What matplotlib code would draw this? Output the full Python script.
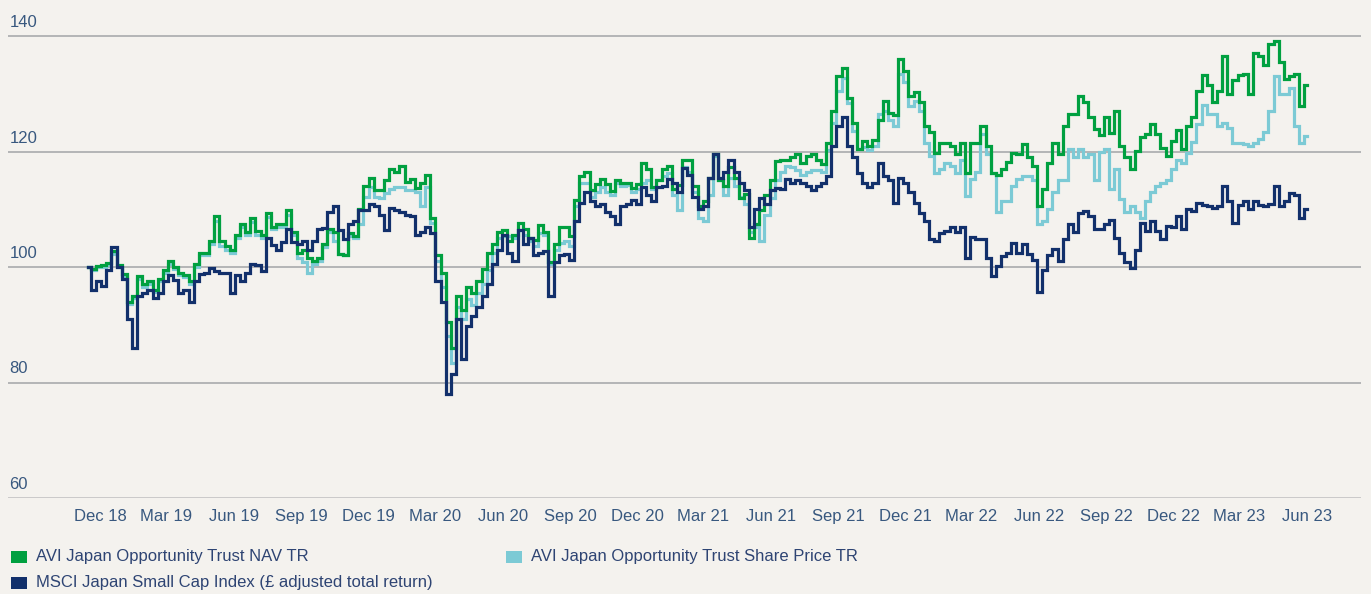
import matplotlib
matplotlib.use('Agg')
import matplotlib.pyplot as plt
import matplotlib.dates as mdates
import pandas as pd
from matplotlib.patches import Rectangle

plt.rcParams['font.family'] = ['Liberation Sans', 'DejaVu Sans']

# ---------------- data (weekly) ----------------
dates = pd.date_range('2018-11-29', periods=238, freq='7D')

nav = [
    # Dec 18 - Sep 19
    100, 99.7, 100.2, 100.3, 100.7, 102.8, 100.3, 98.8, 94, 95,
    98.5, 97, 97.5, 96, 98, 99.5, 101, 100, 99, 98.6,
    97.5, 100.5, 102.5, 102.5, 104.5, 108.8, 104.5, 103.6, 103, 105.6,
    107.5, 106, 108.5, 106.2, 105.5, 109.3, 107, 107.5, 107.5, 109.8,
    106, 102.5, 103, 101.5, 101, 101.5, 104, 106.5,
    # Oct 19 - Sep 20
    106, 102.3, 102.1, 105.9, 105.3, 110, 114, 115.4, 113.4, 113.4,
    115.1, 117, 116.5, 117.5, 114.8, 115.3, 113.7, 114.5, 116, 108.5,
    102, 99, 90.5, 86, 95, 92.5, 96.5, 95.5, 97.5, 99.6,
    102.5, 104, 106, 106.4, 104.5, 105.5, 107.6, 106.5, 105, 104.7,
    107.3, 106, 100.9, 104, 107, 107, 105.3,
    # Sep 20 - Aug 21
    111.6, 115.7, 116.5, 113.4, 114.3, 115.2, 114.3, 113.2, 115, 114.5,
    114.5, 113.7, 114.4, 118, 117, 113.9, 115, 117, 117.5, 113.5,
    114.2, 118.6, 118.6, 114, 110.5, 111.5, 115.5, 119.6, 115, 114,
    117.4, 115.5, 112, 112.6, 105, 107.5, 109.9, 112.5, 115, 118.3,
    118.5, 118.5, 119, 119.5, 118, 119.2, 119.6, 118.5,
    # Aug 21 - Jul 22
    117.8, 121.5, 127, 133, 134.5, 129.3, 125, 120.5, 121.8, 121,
    122, 125.5, 128.7, 126.7, 126.3, 136, 134, 129.6, 130.3, 128.5,
    124.4, 123.3, 119.8, 121.5, 121.5, 121, 119.5, 121.5, 116.3, 121.5,
    121.5, 124.5, 121, 116.3, 116, 116.9, 118.2, 119.8, 119.5, 121.3,
    119, 117.5, 110.5, 113.5, 118, 121.5, 119.5,
    # Jul 22 - Jun 23
    124.5, 126.5, 126.5, 129.6, 128.5, 126, 123.9, 122.8, 126, 123.2,
    127, 120.9, 119, 116.9, 120.1, 122.5, 123, 124.8, 123, 120.6,
    119.3, 121.8, 123.8, 120.5, 124.4, 126, 130.5, 133.2, 131.5, 128.6,
    130.5, 136.5, 130, 132.4, 133.2, 133.5, 130, 137, 136.5, 135,
    138.7, 139.2, 135.5, 132.5, 133, 133.5, 127.8, 131.5,
]

share = [
    100, 99.5, 100, 100, 100.4, 102.3, 100, 98.5, 93.6, 94.6,
    98, 96.6, 97, 95.6, 97.6, 99, 100.5, 99.6, 98.6, 98.2,
    97, 100, 102, 102, 104, 108, 103.6, 103, 102.5, 105,
    107, 105.5, 107.8, 105.6, 105, 108.6, 106.5, 107, 107, 109,
    105.5, 101.5, 100.8, 99, 100.5, 101, 103.5, 106,
    104.5, 102.2, 102, 105.3, 105, 107.5, 112.2, 113.9, 112.2, 112,
    112.8, 113.5, 113.9, 113.9, 113.4, 113.4, 113, 110.5, 113.9, 107.6,
    101, 96.5, 88, 83.4, 93, 91, 94.5, 93.5, 95.5, 97,
    99.5, 102.4, 105, 105.3, 105.3, 105, 106.4, 105.5, 104.5, 103.6,
    105.9, 105.5, 100.5, 103, 104.1, 104.5, 103.6,
    110.5, 114.5, 114.5, 112.2, 113, 113.9, 113, 112.5, 114.5, 114,
    114.2, 113, 113.5, 114.5, 115.1, 113.5, 115, 115.8, 116.3, 112.5,
    109.9, 117.4, 116.5, 113, 108.5, 108, 112.5, 119.2, 115, 112.5,
    115.5, 114, 112.2, 111, 106, 107, 104.5, 109, 112, 115,
    116.5, 117.5, 117.4, 116.8, 116, 116.5, 116.8, 116.8,
    116.5, 120.3, 125, 130.5, 132.8, 128.4, 123.5, 120.5, 120.8, 120.3,
    121, 126.5, 127, 125.5, 124.5, 133.5, 132, 127.8, 128.8, 127,
    121.5, 119.2, 116.3, 117, 118, 117.5, 116.3, 118.5, 112.3, 115.2,
    116.5, 123, 119.5, 116.3, 109.5, 111.5, 111.5, 114, 115.2, 115.7,
    115.7, 115, 107.5, 108, 110, 113, 115,
    115, 120.5, 119, 120.5, 119, 119.5, 115, 120, 120.5, 113.5,
    117, 111.7, 109.5, 110.5, 109.6, 108.5, 111.5, 113, 114, 114.5,
    115, 117, 118.5, 118, 119.8, 121.7, 124.7, 128, 126.5, 126.5,
    124.5, 125, 124, 121.5, 121.5, 121.3, 120.9, 121.5, 122.1, 123.3,
    127, 133, 130, 130, 131, 124.4, 121.5, 122.7,
]

msci = [
    100, 96, 97.5, 96.7, 99.5, 103.5, 100, 98, 91, 86,
    95, 95.5, 96, 94.7, 95.5, 97.5, 98.7, 97.8, 95.5, 96,
    94, 97.5, 98.8, 99, 99.8, 99.3, 99, 99, 95.5, 98.7,
    97.5, 99, 100.5, 100.3, 99.3, 105, 103.8, 103, 104.3, 106.5,
    104.3, 104, 104.5, 103, 104.5, 106.5, 106.8, 109.5,
    110.5, 106.4, 104.8, 107.5, 108, 109.9, 109.9, 111, 110.5, 109,
    106.4, 110.3, 109.9, 109.5, 109, 108.8, 105.5, 106, 107, 105.9,
    97.5, 94, 78, 81.5, 91, 84, 89.8, 91.5, 93, 95,
    97, 100.5, 103, 105.5, 102.5, 101, 106.4, 104, 105, 102,
    102.5, 102.8, 95, 100.8, 102.1, 102.3, 101.3,
    108, 111.1, 113, 111.5, 110.5, 111, 109.6, 108.8, 107.5, 110.6,
    111, 111.6, 111, 113.8, 112.5, 111.5, 113.8, 114, 115.2, 114.5,
    113, 117.2, 116, 112.2, 110, 110.5, 115.5, 119.5, 115.4, 116.5,
    118.6, 116.5, 114.5, 113.4, 107, 110, 111.9, 111, 113.4, 113.7,
    113.5, 115.3, 114.6, 115.1, 114.5, 114, 113.4, 114,
    114.5, 115.7, 121, 124.5, 126, 121, 119, 116.3, 114.5, 113.8,
    114.5, 118, 115.7, 115, 111.1, 115.5, 114.6, 113, 111.1, 109.4,
    108, 104.8, 104.5, 105.9, 106.3, 107, 106, 107, 101.5, 105.2,
    104.8, 104.8, 101.5, 98.5, 100.2, 101.9, 102.5, 104.2, 102.5, 104,
    102.3, 101.3, 95.6, 99.5, 102, 103.1, 101,
    104.8, 107.5, 106, 109.4, 109.7, 108.8, 106.5, 106.5, 107.5, 108.2,
    105, 102.5, 100.8, 99.9, 103, 107.7, 106.3, 108, 106.2, 104.8,
    107.1, 107, 108.8, 106.5, 110, 109.7, 111.1, 110.8, 110.5, 110.3,
    110.5, 114, 111.5, 107.7, 110.7, 111.5, 110, 111.5, 110.8, 110.5,
    111, 114, 110.5, 111.5, 112.8, 112.5, 108.5, 110,
]

tick_labels = ['Dec 18', 'Mar 19', 'Jun 19', 'Sep 19', 'Dec 19', 'Mar 20', 'Jun 20',
               'Sep 20', 'Dec 20', 'Mar 21', 'Jun 21', 'Sep 21', 'Dec 21', 'Mar 22',
               'Jun 22', 'Sep 22', 'Dec 22', 'Mar 23', 'Jun 23']
y_ticks = [60, 80, 100, 120, 140]
series_names = ['AVI Japan Opportunity Trust NAV TR',
                'AVI Japan Opportunity Trust Share Price TR',
                'MSCI Japan Small Cap Index (£ adjusted total return)']

# ---------------- style ----------------
BG = '#f4f2ee'
C_NAV = '#00a040'
C_SHARE = '#7ccad5'
C_MSCI = '#12306b'
C_TEXT = '#38587f'
C_LEG = '#2e4473'

W, H = 1371, 594
fig = plt.figure(figsize=(W / 100, H / 100), dpi=100, facecolor=BG)
ax = fig.add_axes([8 / W, (H - 498) / H, (1361 - 8) / W, (498 - 24.5) / H])
ax.set_facecolor(BG)

kw = dict(lw=2.3, drawstyle='steps-mid', solid_joinstyle='miter')
ax.plot(dates, share, color=C_SHARE, zorder=3, **kw)
ax.plot(dates, nav, color=C_NAV, zorder=4, **kw)
ax.plot(dates, msci, color=C_MSCI, zorder=5, **kw)

for v in y_ticks[1:]:
    ax.axhline(v, color='#a3a5a7', lw=1.1, zorder=1)
ax.axhline(y_ticks[0], color='#c6c6c6', lw=2.0, zorder=1)

ax.set_ylim(60, 142)
tick_dates = pd.date_range('2018-12-15', periods=len(tick_labels), freq=pd.DateOffset(months=3))
t0 = mdates.date2num(tick_dates[0])
t1 = mdates.date2num(tick_dates[-1])
pxday = (1307 - 100) / (t1 - t0)
ax.set_xlim(t0 - 92 / pxday, t1 + 54 / pxday)

ax.set_xticks(tick_dates)
ax.set_xticklabels(tick_labels)
ax.tick_params(axis='x', length=0, pad=8, labelsize=12, labelcolor=C_TEXT)
ax.set_yticks([])
for s in ax.spines.values():
    s.set_visible(False)

for v in y_ticks:
    ax.annotate(str(v), xy=(0, v), xycoords=('axes fraction', 'data'),
                xytext=(1, 6.5), textcoords='offset points', ha='left', va='baseline',
                fontsize=12, color=C_TEXT, annotation_clip=False)

# ---------------- legend ----------------
def leg_item(x, y, color, label):
    fig.patches.append(Rectangle((x / W, 1 - (y + 6) / H), 16 / W, 12 / H,
                                 transform=fig.transFigure, facecolor=color,
                                 edgecolor='none', figure=fig))
    fig.text((x + 25) / W, 1 - y / H, label, ha='left', va='center',
             fontsize=12, color=C_LEG)

leg_item(11, 557, C_NAV, series_names[0])
leg_item(506, 557, C_SHARE, series_names[1])
leg_item(11, 583, C_MSCI, series_names[2])

fig.savefig('out.png', dpi=100, facecolor=BG)
